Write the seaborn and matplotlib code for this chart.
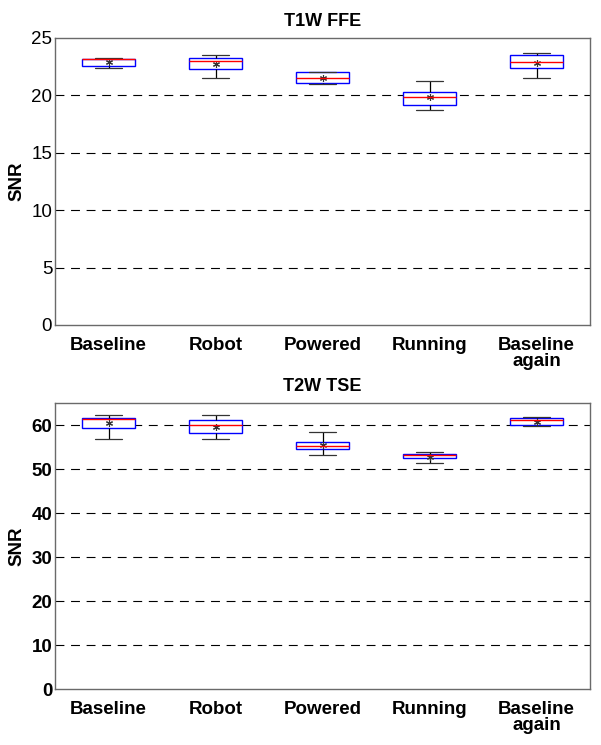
import matplotlib
matplotlib.use("Agg")
import matplotlib.pyplot as plt
import seaborn as sns
import pandas as pd

categories = ["Baseline", "Robot", "Powered", "Running", "Baseline\nagain"]

# T1W FFE five-number summaries and means
t1_whislo = [22.40, 21.54, 20.98, 18.70, 21.48]
t1_q1     = [22.60, 22.26, 21.05, 19.15, 22.35]
t1_med    = [23.13, 22.96, 21.53, 19.90, 22.90]
t1_q3     = [23.20, 23.30, 22.00, 20.26, 23.48]
t1_whishi = [23.30, 23.54, 22.06, 21.25, 23.68]
t1_mean   = [22.93, 22.75, 21.50, 19.83, 22.81]

# T2W TSE five-number summaries and means
t2_whislo = [56.90, 56.90, 53.10, 51.36, 59.77]
t2_q1     = [59.24, 58.18, 54.55, 52.42, 59.93]
t2_med    = [61.30, 60.00, 55.15, 53.10, 61.06]
t2_q3     = [61.66, 61.06, 56.20, 53.33, 61.50]
t2_whishi = [62.20, 62.20, 58.48, 53.80, 61.74]
t2_mean   = [60.45, 59.47, 55.53, 52.73, 60.76]

t1_yticks = [0, 5, 10, 15, 20, 25]
t2_yticks = [0, 10, 20, 30, 40, 50, 60]

sns.set_theme(style="white")
plt.rcParams["font.family"] = ["Liberation Sans", "DejaVu Sans"]
plt.rcParams["text.color"] = "black"
plt.rcParams["axes.labelcolor"] = "black"
plt.rcParams["xtick.color"] = "black"
plt.rcParams["ytick.color"] = "black"

fig = plt.figure(figsize=(6.01, 7.45), dpi=100)


def build(lo, q1, med, q3, hi):
    rows = []
    for i, c in enumerate(categories):
        for v in (lo[i], q1[i], med[i], q3[i], hi[i]):
            rows.append({"cat": c, "val": v})
    return pd.DataFrame(rows)


def panel(ax, df, means, title, ylim, yticks, bold_y):
    sns.boxplot(data=df, x="cat", y="val", order=categories, ax=ax,
                whis=(0, 100), width=0.5, color="white", linewidth=1.0,
                fliersize=0,
                boxprops=dict(edgecolor="#0000ff", facecolor="white", linewidth=1.0),
                medianprops=dict(color="#ff0000", linewidth=1.0),
                whiskerprops=dict(color="black", linewidth=0.9),
                capprops=dict(color="#333333", linewidth=0.9))
    sns.pointplot(x=categories, y=means, order=categories, ax=ax,
                  linestyle="none", marker=(6, 2, 0), markersize=5,
                  markeredgewidth=0.8, color="#333333", errorbar=None)
    ax.set_xlim(-0.5, 4.5)
    ax.set_ylim(*ylim)
    ax.set_yticks(yticks)
    ax.set_yticklabels([str(t) for t in yticks], fontsize=13.5,
                       fontweight="bold" if bold_y else "normal")
    ax.set_xticks(range(len(categories)))
    ax.set_xticklabels(categories, fontsize=13.5, fontweight="bold",
                       linespacing=0.85, va="top")
    ax.tick_params(axis="both", length=0)
    ax.tick_params(axis="x", pad=9)
    ax.tick_params(axis="y", pad=2)
    ax.set_xlabel("")
    ax.set_ylabel("SNR", fontsize=13.5, fontweight="bold", labelpad=4)
    ax.set_title(title, fontsize=13, fontweight="bold", pad=9)
    ax.yaxis.grid(True, linestyle=(0, (8, 6)), color="black", linewidth=0.8)
    ax.set_axisbelow(True)
    gl = ax.get_ygridlines()
    gl[0].set_visible(False)
    if yticks[-1] == ylim[1]:
        gl[-1].set_visible(False)
    for s in ax.spines.values():
        s.set_visible(True)
        s.set_color("#6a6a6a")
        s.set_linewidth(1.0)


ax1 = fig.add_axes([55 / 601, 1 - 325 / 745, 535 / 601, 287 / 745])
panel(ax1, build(t1_whislo, t1_q1, t1_med, t1_q3, t1_whishi), t1_mean,
      "T1W FFE", (0, 25), t1_yticks, False)

ax2 = fig.add_axes([55 / 601, 1 - 689 / 745, 535 / 601, 286 / 745])
panel(ax2, build(t2_whislo, t2_q1, t2_med, t2_q3, t2_whishi), t2_mean,
      "T2W TSE", (0, 65), t2_yticks, True)

fig.savefig("out.png", dpi=100, facecolor="white")
